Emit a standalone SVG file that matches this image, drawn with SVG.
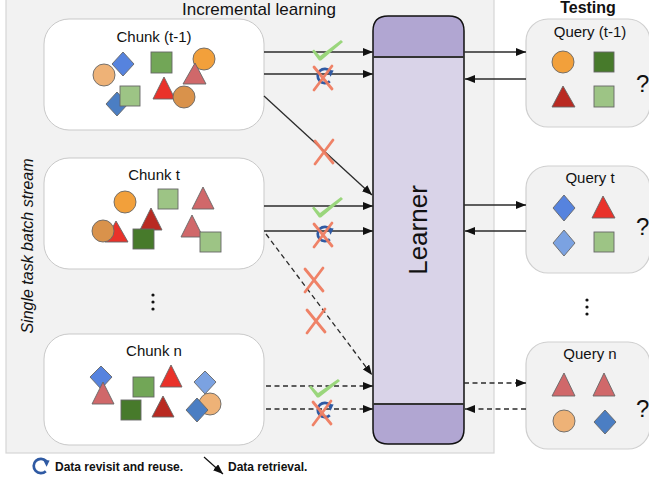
<svg xmlns="http://www.w3.org/2000/svg" xmlns:xlink="http://www.w3.org/1999/xlink" width="649" height="480" viewBox="0 0 649 480">
  <style>
    text { font-family: "Liberation Sans", Arial, sans-serif; fill: #111; }
    .title { font-size: 17px; }
    .head { font-size: 16px; font-weight: bold; }
    .lbl { font-size: 15px; text-anchor: middle; }
    .q { font-size: 24px; }
    .legend { font-size: 12px; font-weight: bold; }
    .side { font-size: 16px; font-style: italic; }
    .chunk { fill: #ffffff; stroke: #c9c9c9; stroke-width: 1; }
    .query { fill: #f2f2f2; stroke: #cfcfcf; stroke-width: 1.2; }
    .sh { stroke: #666666; stroke-width: 0.9; }
    .c-or { fill: #f2a03b; } .c-lo { fill: #eeb277; } .c-br { fill: #d9924b; }
    .d-bl { fill: #5683de; } .d-db { fill: #4b7ec3; } .d-lb { fill: #7ba2e1; }
    .s-mg { fill: #72a657; } .s-dg { fill: #477a2b; } .s-lg { fill: #9dc485; }
    .t-pk { fill: #d0686a; } .t-rd { fill: #e9322a; } .t-dr { fill: #b92a22; }
    .ln { fill: none; stroke: #2b2b2b; stroke-width: 1.3; }
    .dash { stroke-dasharray: 5 3.5; }
    .cross { stroke: #ee7b5f; stroke-width: 2.8; stroke-linecap: round; fill: none; opacity: 0.95; }
    .check { fill: #9ad67c; }
    .dots { fill: #111; }
  </style>
  <defs>
    <marker id="arr" markerUnits="userSpaceOnUse" markerWidth="11" markerHeight="8" refX="10" refY="4" orient="auto">
      <path d="M0,0 L10,4 L0,8 z" fill="#111"/>
    </marker>
    <!-- circular "revisit" arrow -->
    <g id="revisit">
      <path d="M4.8,5.3 A7.2,7.2 0 1 1 5.1,-5" fill="none" stroke="#2f5aa3" stroke-width="2.7"/>
      <path d="M1.9,-6.5 L8.6,-5.4 L5.6,0.7 z" fill="#2f5aa3"/>
    </g>
    <g id="xmark">
      <path class="cross" d="M-9,-11 L9,11 M9,-12 L-9,12"/>
    </g>
  </defs>

  <!-- incremental learning panel -->
  <rect id="panel" x="6" y="-2" width="488" height="455" fill="#f2f2f2" stroke="#d6d6d6" stroke-width="1.2"/>
  <text class="title" x="259" y="15" text-anchor="middle">Incremental learning</text>
  <text class="head" x="588" y="13" text-anchor="middle">Testing</text>
  <text class="side" transform="translate(33,246) rotate(-90)" text-anchor="middle">Single task batch stream</text>

  <!-- chunk (t-1) -->
  <g id="chunk-t-1">
    <rect class="chunk" x="44" y="19" width="220" height="111" rx="25"/>
    <text class="lbl" x="154" y="42">Chunk (t-1)</text>
    <circle class="sh c-lo" cx="104" cy="75" r="11"/>
    <polygon class="sh d-bl" points="123,52 134,64 123,76 112,64"/>
    <rect class="sh s-mg" x="151" y="52" width="21" height="21"/>
    <polygon class="sh d-db" points="117,92 128,104 117,116 106,104"/>
    <rect class="sh s-lg" x="120" y="86" width="20" height="20"/>
    <circle class="sh c-or" cx="204" cy="59" r="11"/>
    <polygon class="sh t-pk" points="195,63 206,84 183,84"/>
    <polygon class="sh t-rd" points="164,77 175,99 153,99"/>
    <circle class="sh c-br" cx="184" cy="97" r="11"/>
  </g>

  <!-- chunk t -->
  <g id="chunk-t">
    <rect class="chunk" x="44" y="158" width="220" height="111" rx="25"/>
    <text class="lbl" x="154" y="180">Chunk t</text>
    <circle class="sh c-or" cx="125" cy="202" r="11"/>
    <rect class="sh s-lg" x="158" y="189" width="20" height="20"/>
    <polygon class="sh t-pk" points="203,187 214,209 192,209"/>
    <polygon class="sh t-dr" points="151,208 162,230 140,230"/>
    <polygon class="sh t-rd" points="116,221 128,242 105,242"/>
    <circle class="sh c-br" cx="103" cy="231" r="11"/>
    <rect class="sh s-dg" x="133" y="229" width="21" height="20"/>
    <polygon class="sh t-pk" points="192,215 203,237 181,237"/>
    <rect class="sh s-lg" x="200" y="232" width="21" height="20"/>
  </g>

  <!-- gap between chunks -->
  <g id="chunk-dots" class="dots">
    <circle cx="153" cy="295" r="1.6"/>
    <circle cx="153" cy="302" r="1.6"/>
    <circle cx="153" cy="309" r="1.6"/>
  </g>

  <!-- chunk n -->
  <g id="chunk-n">
    <rect class="chunk" x="44" y="334" width="220" height="111" rx="25"/>
    <text class="lbl" x="154" y="356">Chunk n</text>
    <polygon class="sh d-bl" points="101,366 112,377 101,389 90,377"/>
    <polygon class="sh t-pk" points="103,382 114,404 92,404"/>
    <rect class="sh s-mg" x="133" y="377" width="21" height="20"/>
    <polygon class="sh t-rd" points="171,365 182,387 160,387"/>
    <polygon class="sh d-lb" points="205,371 216,382 205,394 194,382"/>
    <rect class="sh s-dg" x="121" y="400" width="20" height="20"/>
    <polygon class="sh t-dr" points="163,396 174,417 152,417"/>
    <circle class="sh c-lo" cx="210" cy="404" r="11"/>
    <polygon class="sh d-db" points="197,398 208,410 197,422 186,410"/>
  </g>

  <!-- learner -->
  <g id="learner">
    <path d="M373,31 Q373,16 388,16 L449,16 Q464,16 464,31 L464,429 Q464,444 449,444 L388,444 Q373,444 373,429 Z" fill="#d9d3e8"/>
    <path d="M373,57 L373,31 Q373,16 388,16 L449,16 Q464,16 464,31 L464,57 Z" fill="#b1a6d2"/>
    <path d="M373,404 L464,404 L464,429 Q464,444 449,444 L388,444 Q373,444 373,429 Z" fill="#b1a6d2"/>
    <path d="M373,31 Q373,16 388,16 L449,16 Q464,16 464,31 L464,429 Q464,444 449,444 L388,444 Q373,444 373,429 Z" fill="none" stroke="#111" stroke-width="1.5"/>
    <line x1="373" y1="57" x2="464" y2="57" stroke="#333" stroke-width="2"/>
    <line x1="373" y1="404" x2="464" y2="404" stroke="#333" stroke-width="2"/>
    <text transform="translate(427,230) rotate(-90)" text-anchor="middle" font-size="26">Learner</text>
  </g>

  <!-- query (t-1) -->
  <g id="query-t-1">
    <rect class="query" x="526" y="19" width="124" height="108" rx="22"/>
    <text class="lbl" x="590" y="37">Query (t-1)</text>
    <circle class="sh c-or" cx="563" cy="62" r="11"/>
    <rect class="sh s-dg" x="594" y="52" width="20" height="20"/>
    <polygon class="sh t-dr" points="563,86 575,107 552,107"/>
    <rect class="sh s-lg" x="594" y="86" width="20" height="21"/>
    <text class="q" x="636" y="92">?</text>
  </g>

  <!-- query t -->
  <g id="query-t">
    <rect class="query" x="526" y="166" width="124" height="107" rx="22"/>
    <text class="lbl" x="590" y="183">Query t</text>
    <polygon class="sh d-bl" points="564,195 575,208 564,221 553,208"/>
    <polygon class="sh t-rd" points="603,196 615,218 592,218"/>
    <polygon class="sh d-lb" points="564,230 575,243 564,256 553,243"/>
    <rect class="sh s-lg" x="594" y="232" width="20" height="20"/>
    <text class="q" x="636" y="235">?</text>
  </g>

  <g id="query-dots" class="dots">
    <circle cx="587" cy="300" r="1.6"/>
    <circle cx="587" cy="307" r="1.6"/>
    <circle cx="587" cy="314" r="1.6"/>
  </g>

  <!-- query n -->
  <g id="query-n">
    <rect class="query" x="526" y="342" width="124" height="107" rx="22"/>
    <text class="lbl" x="590" y="359">Query n</text>
    <polygon class="sh t-pk" points="564,373 575,396 552,396"/>
    <polygon class="sh t-pk" points="604,373 615,396 593,396"/>
    <circle class="sh c-lo" cx="564" cy="421" r="11"/>
    <polygon class="sh d-db" points="605,410 616,422 605,434 594,422"/>
    <text class="q" x="636" y="417">?</text>
  </g>

  <!-- connectors -->
  <g id="connectors">
    <line class="ln" x1="264" y1="52" x2="373" y2="52" marker-end="url(#arr)"/>
    <line class="ln" x1="264" y1="74" x2="373" y2="74" marker-end="url(#arr)"/>
    <line class="ln" x1="264" y1="96" x2="372" y2="195" stroke-width="1.1" marker-end="url(#arr)"/>
    <line class="ln" x1="264" y1="206" x2="373" y2="206" marker-end="url(#arr)"/>
    <line class="ln" x1="264" y1="231" x2="373" y2="231" marker-end="url(#arr)"/>
    <line class="ln dash" x1="266" y1="234" x2="372" y2="375" stroke-width="1.1" marker-end="url(#arr)"/>
    <line class="ln dash" x1="266" y1="386" x2="373" y2="386" marker-end="url(#arr)"/>
    <line class="ln dash" x1="266" y1="409" x2="373" y2="409" marker-end="url(#arr)"/>

    <line class="ln" x1="464" y1="52" x2="526" y2="52" marker-end="url(#arr)"/>
    <line class="ln" x1="526" y1="79" x2="465" y2="79" marker-end="url(#arr)"/>
    <line class="ln" x1="464" y1="205" x2="526" y2="205" marker-end="url(#arr)"/>
    <line class="ln" x1="526" y1="231" x2="465" y2="231" marker-end="url(#arr)"/>
    <line class="ln dash" x1="464" y1="383" x2="526" y2="383" marker-end="url(#arr)"/>
    <line class="ln dash" x1="526" y1="409" x2="465" y2="409" marker-end="url(#arr)"/>
  </g>

  <!-- allowed / blocked marks on the stream -->
  <g id="marks">
    <path class="check" d="M312,51 L314,49.5 L320,56 L341,40 L343,42 L321,60.5 L319,60.5 Z"/>
    <path class="check" d="M312,208 L314,206.5 L320,213 L341,197 L343,199 L321,217.5 L319,217.5 Z"/>
    <path class="check" d="M309,387 L311,385.5 L318,393 L338,379 L340,381 L319,397.5 L317,397.5 Z"/>

    <use xlink:href="#revisit" x="325" y="76"/>
    <use xlink:href="#revisit" x="325" y="234"/>
    <use xlink:href="#revisit" x="325" y="410"/>

    <use xlink:href="#xmark" x="323" y="78"/>
    <use xlink:href="#xmark" x="324" y="152"/>
    <use xlink:href="#xmark" x="323" y="235"/>
    <use xlink:href="#xmark" x="314" y="280"/>
    <use xlink:href="#xmark" x="316" y="321"/>
    <use xlink:href="#xmark" x="322" y="413"/>
  </g>

  <!-- legend -->
  <g id="legend">
    <use xlink:href="#revisit" x="41" y="466"/>
    <text class="legend" x="55" y="471">Data revisit and reuse.</text>
    <line x1="204" y1="457" x2="223" y2="474" stroke="#111" stroke-width="1.2" marker-end="url(#arr)"/>
    <text class="legend" x="228" y="471">Data retrieval.</text>
  </g>
</svg>
